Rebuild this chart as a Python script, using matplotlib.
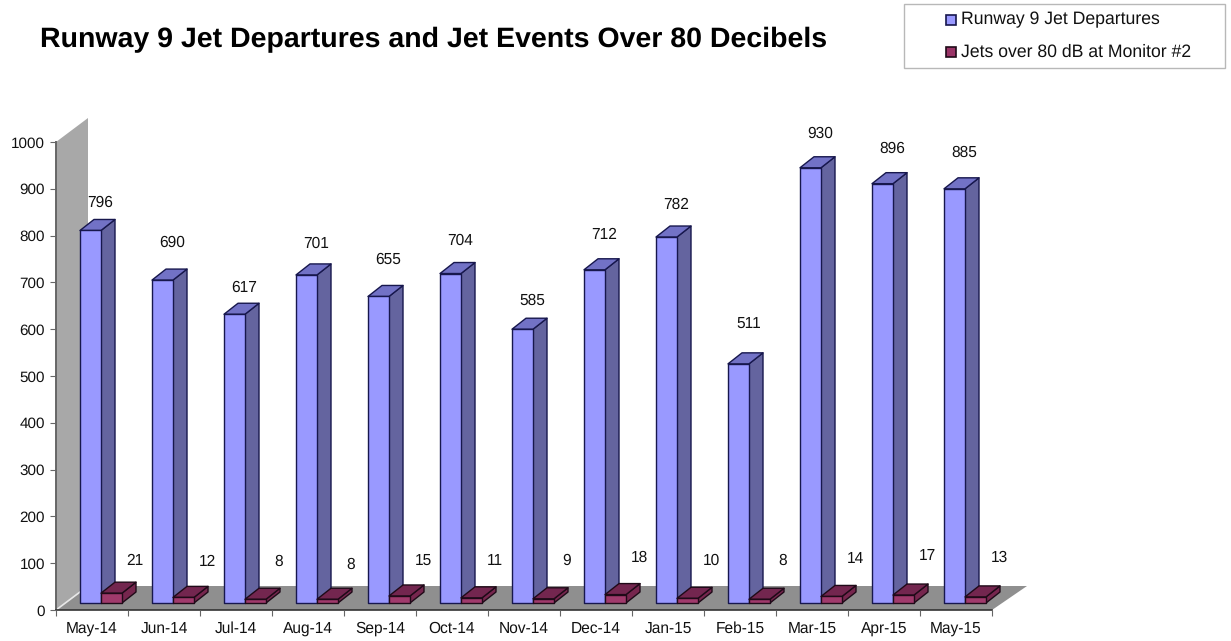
#!/usr/bin/env python3
"""Runway 9 jet departures chart, faked 3D columns drawn from polygons."""
import matplotlib
matplotlib.use("Agg")
import matplotlib.pyplot as plt
from matplotlib.patches import Polygon, Rectangle
from matplotlib.lines import Line2D

plt.rcParams["font.family"] = ["Liberation Sans", "DejaVu Sans"]
plt.rcParams["text.hinting"] = "no_hinting"

months = ["May-14", "Jun-14", "Jul-14", "Aug-14", "Sep-14", "Oct-14", "Nov-14",
          "Dec-14", "Jan-15", "Feb-15", "Mar-15", "Apr-15", "May-15"]
departures = [796, 690, 617, 701, 655, 704, 585, 712, 782, 511, 930, 896, 885]
over_80db = [21, 12, 8, 8, 15, 11, 9, 18, 10, 8, 14, 17, 13]
y_ticks = [0, 100, 200, 300, 400, 500, 600, 700, 800, 900, 1000]

# label height above the front top edge of each bar, in pixels
dep_label_up = [28, 37, 27, 31, 37, 33, 29, 35, 32, 40, 34, 35, 36]
db_label_up = [32, 36, 38, 35, 35, 37, 38, 37, 38, 39, 38, 39, 39]

W, H = 1231, 641
DPI = 100
PX_X = 72.0          # pixels per category
PX_Y = 0.468         # pixels per value unit

fig = plt.figure(figsize=(W / DPI, H / DPI), dpi=DPI, facecolor="white")
ax = fig.add_axes([56 / W, (H - 610) / H, 936 / W, 468 / H])
ax.set_xlim(0, 13)
ax.set_ylim(0, 1000)
ax.patch.set_visible(False)

# depth of the chart box and of a single bar, in data units
wall_dx, wall_dy = 32 / PX_X, 24 / PX_Y
bar_dx, bar_dy = 14 / PX_X, 11 / PX_Y
bar_w = 21 / PX_X
bar_x0 = 24 / PX_X
bar_base = 7 / PX_Y


def poly(points, color, edge="none", lw=0.0, z=1):
    ax.add_patch(Polygon(points, closed=True, facecolor=color, edgecolor=edge,
                         linewidth=lw, zorder=z, clip_on=False, joinstyle="round"))


def draw_box(x, value, front, side, top, edge, z):
    y0, y1 = bar_base, bar_base + value
    x1 = x + bar_w
    poly([(x1, y0), (x1 + bar_dx, y0 + bar_dy), (x1 + bar_dx, y1 + bar_dy), (x1, y1)],
         side, edge, 1.0, z)
    poly([(x, y1), (x1, y1), (x1 + bar_dx, y1 + bar_dy), (x + bar_dx, y1 + bar_dy)],
         top, edge, 1.0, z)
    poly([(x, y0), (x1, y0), (x1, y1), (x, y1)], front, edge, 1.0, z)


# wall and floor
poly([(0, 0), (wall_dx, wall_dy), (wall_dx, 1000 + wall_dy), (0, 1000)], "#a8a8a8", z=0)
poly([(0, 0), (wall_dx, wall_dy), (13 + wall_dx + 3 / PX_X, wall_dy), (13, 0)], "#8f8f8f", z=0)
ax.plot([0, wall_dx * 0.75], [0, wall_dy * 0.75], color="#e8e8e8", lw=1.2, zorder=0.5, clip_on=False)

for i, (dep, db) in enumerate(zip(departures, over_80db)):
    x = i + bar_x0
    draw_box(x, dep, "#9999ff", "#64649f", "#7272c6", "#17174d", 2 + i)
    draw_box(x + bar_w, db, "#a03a6c", "#76264e", "#73264f", "#1f0a18", 2 + i + 0.5)
    ax.annotate(str(dep), (x + bar_w / 2, bar_base + dep), xytext=(10 * 72 / DPI, dep_label_up[i] * 72 / DPI),
                textcoords="offset points", ha="center", va="center", fontsize=11.2,
                color="#111111", zorder=30, annotation_clip=False)
    ax.annotate(str(db), (x + bar_w * 1.5, bar_base + db), xytext=(23.5 * 72 / DPI, db_label_up[i] * 72 / DPI),
                textcoords="offset points", ha="center", va="center", fontsize=11.2,
                color="#111111", zorder=30, annotation_clip=False)

# axes lines and ticks
for name in ("top", "right"):
    ax.spines[name].set_visible(False)
ax.spines["left"].set_color("#666666")
ax.spines["left"].set_linewidth(1.4)
ax.spines["bottom"].set_color("#333333")
ax.spines["bottom"].set_linewidth(1.2)
ax.set_axisbelow(False)

ax.set_yticks(y_ticks)
ax.set_xticks(range(14))
ax.set_xticklabels([])
ax.set_xticks([i + 0.5 for i in range(13)], minor=True)
ax.set_xticklabels(months, minor=True)
ax.tick_params(axis="y", length=4, width=0.8, color="#666666", labelsize=11, pad=4, labelcolor="#111111")
ax.tick_params(axis="x", which="major", length=4, width=0.8, color="#666666", direction="out")
ax.tick_params(axis="x", which="minor", length=0, labelsize=11.2, pad=8, labelcolor="#111111")

fig.text(40 / W, 1 - 40 / H, "Runway 9 Jet Departures and Jet Events Over 80 Decibels",
         fontsize=20.5, fontweight="bold", color="black", ha="left", va="center")

# legend box
fig.add_artist(Rectangle((904 / W, 1 - 68 / H), 321 / W, 64 / H, transform=fig.transFigure,
                         facecolor="white", edgecolor="#b8b8b8", linewidth=1))
entries = [("Runway 9 Jet Departures", "#9999ff", "#17174d", 20),
           ("Jets over 80 dB at Monitor #2", "#993366", "#1f0a18", 52)]
for label, face, edge, py in entries:
    fig.add_artist(Line2D([951 / W], [1 - py / H], transform=fig.transFigure, marker="s", markersize=6.5,
                          markerfacecolor=face, markeredgecolor=edge, markeredgewidth=1.2, linestyle="none"))
    fig.text(961 / W, 1 - py / H, label, fontsize=12.7, color="#111111", ha="left", va="center")

fig.savefig("out.png", dpi=DPI, facecolor="white")
plt.close(fig)
